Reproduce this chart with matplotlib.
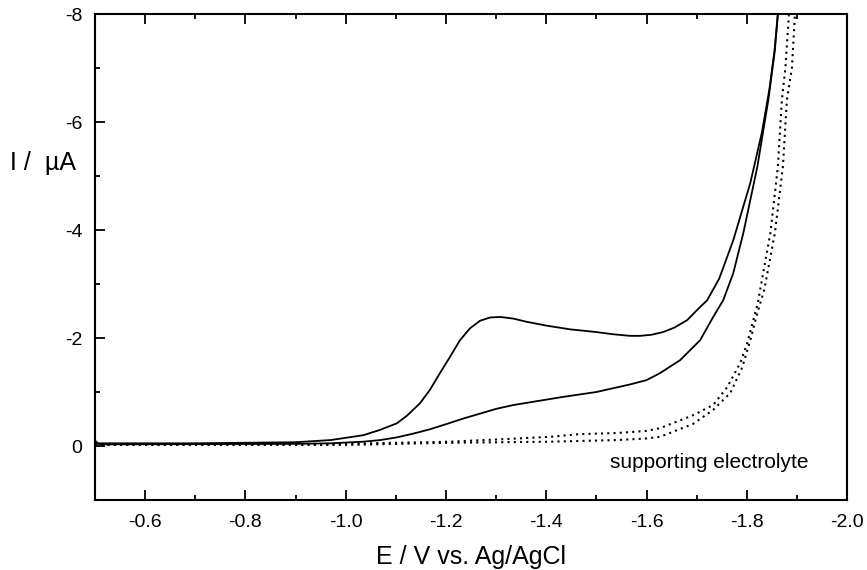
import matplotlib.pyplot as plt
from matplotlib.ticker import MultipleLocator, FormatStrFormatter

# Cyclic voltammogram
# solid curve with the reduction peak near -1.3 V
e_peak = [-0.500, -0.506, -0.52, -0.70, -0.90, -0.97, -1.035, -1.069, -1.102,
          -1.122, -1.148, -1.168, -1.188, -1.208, -1.228, -1.248, -1.268, -1.288,
          -1.308, -1.334, -1.361, -1.40, -1.448, -1.50, -1.533, -1.567, -1.587,
          -1.610, -1.633, -1.655, -1.681, -1.701, -1.721, -1.745, -1.773, -1.807,
          -1.830, -1.845, -1.855, -1.862]
i_peak = [-0.10, -0.05, -0.05, -0.05, -0.07, -0.11, -0.20, -0.30, -0.42,
          -0.56, -0.79, -1.04, -1.35, -1.65, -1.96, -2.18, -2.32, -2.38,
          -2.39, -2.36, -2.30, -2.23, -2.16, -2.11, -2.07, -2.04, -2.04,
          -2.06, -2.11, -2.19, -2.33, -2.52, -2.70, -3.10, -3.81, -4.87,
          -5.80, -6.60, -7.30, -8.00]

# solid return curve (no peak)
e_back = [-0.500, -0.506, -0.52, -0.90, -0.97, -1.035, -1.069, -1.102, -1.135,
          -1.168, -1.202, -1.235, -1.268, -1.301, -1.335, -1.368, -1.434, -1.50,
          -1.567, -1.60, -1.627, -1.667, -1.707, -1.733, -1.753, -1.773, -1.793,
          -1.821, -1.843, -1.856, -1.862]
i_back = [-0.08, -0.04, -0.03, -0.04, -0.05, -0.08, -0.11, -0.16, -0.23,
          -0.31, -0.41, -0.51, -0.60, -0.69, -0.76, -0.81, -0.91, -1.00,
          -1.14, -1.22, -1.35, -1.59, -1.96, -2.39, -2.70, -3.20, -3.94,
          -5.17, -6.41, -7.33, -8.00]

# supporting electrolyte, two dotted scans
e_bg1 = [-0.50, -0.90, -1.00, -1.10, -1.208, -1.30, -1.408, -1.467, -1.541, -1.60,
         -1.627, -1.693, -1.733, -1.761, -1.787, -1.801, -1.813, -1.822, -1.847,
         -1.862, -1.870, -1.877, -1.884]
i_bg1 = [-0.03, -0.03, -0.04, -0.06, -0.08, -0.12, -0.17, -0.22, -0.24, -0.28,
         -0.33, -0.57, -0.76, -1.09, -1.54, -1.91, -2.33, -2.65, -3.94,
         -5.17, -6.41, -7.00, -7.98]

e_bg2 = [-0.50, -1.00, -1.208, -1.408, -1.541, -1.60, -1.627, -1.693, -1.733, -1.767,
         -1.791, -1.807, -1.821, -1.835, -1.856, -1.872, -1.880, -1.890, -1.896]
i_bg2 = [-0.02, -0.02, -0.06, -0.08, -0.11, -0.14, -0.17, -0.41, -0.67, -0.98,
         -1.46, -1.96, -2.46, -2.90, -3.94, -5.17, -6.41, -7.00, -7.98]

plt.rcParams["font.family"] = ["Liberation Sans", "DejaVu Sans"]
plt.rcParams["axes.unicode_minus"] = False

fig = plt.figure(figsize=(8.67, 5.70), dpi=100)
ax = fig.add_axes([0.1096, 0.1228, 0.8674, 0.8526])

ax.plot(e_peak, i_peak, color="black", lw=1.3)
ax.plot(e_back, i_back, color="black", lw=1.3)
ax.plot(e_bg1, i_bg1, color="black", lw=1.5, linestyle=(0, (1, 2)))
ax.plot(e_bg2, i_bg2, color="black", lw=1.5, linestyle=(0, (1, 2)))

ax.set_xlim(-0.5, -2.0)
ax.set_ylim(1, -8)

ax.xaxis.set_major_locator(MultipleLocator(0.2))
ax.xaxis.set_minor_locator(MultipleLocator(0.1))
ax.xaxis.set_major_formatter(FormatStrFormatter("%.1f"))
ax.yaxis.set_major_locator(MultipleLocator(2))
ax.yaxis.set_minor_locator(MultipleLocator(1))

ax.tick_params(which="both", direction="in", top=True, right=False,
               width=1.3, labelsize=14)
ax.tick_params(axis="x", which="major", length=7, pad=10)
ax.tick_params(axis="x", which="minor", length=3.5)
ax.tick_params(axis="y", which="major", length=7, pad=9)
ax.tick_params(axis="y", which="minor", length=3.5)
for s in ax.spines.values():
    s.set_linewidth(1.5)

ax.set_xlabel("E / V vs. Ag/AgCl", fontsize=18, labelpad=10)
fig.text(0.012, 1 - 163 / 570, "I /  \u00b5A", fontsize=18, va="center", ha="left")

ax.text(-1.527, 0.30, "supporting electrolyte", fontsize=15, va="center", ha="left")

plt.savefig("out.png", dpi=100)
